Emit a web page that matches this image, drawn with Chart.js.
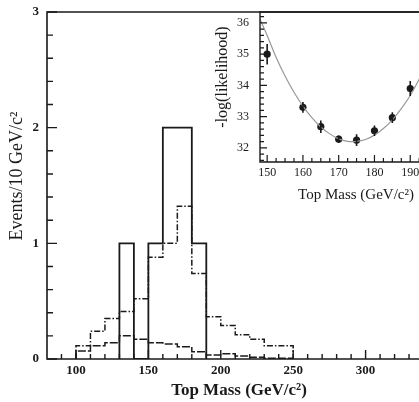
<!DOCTYPE html>
<html><head><meta charset="utf-8">
<script src="https://cdn.jsdelivr.net/npm/chart.js@4.4.1/dist/chart.umd.min.js"></script>
<style>
html,body{margin:0;padding:0;background:#fff;overflow:hidden;width:419px;height:402px;}
#main{position:absolute;left:0;top:0;}
#inset{position:absolute;left:200px;top:0;}
</style></head><body>
<canvas id="main" width="460" height="402"></canvas>
<canvas id="inset" width="260" height="215"></canvas>
<script>
// ---------- main histogram data ----------
const binWidth = 10;
const dataStart = 130;
const dataCounts = [1, 0, 1, 2, 2, 1];                 // 130-190
const sigBkgStart = 100;
const sigBkgValues = [0.115, 0.24, 0.35, 0.41, 0.52, 0.88, 1.0, 1.32, 0.74, 0.365, 0.29, 0.21, 0.17, 0.115, 0.115]; // 100-250
const bkgStart = 100;
const bkgValues = [0.07, 0.115, 0.14, 0.2, 0.17, 0.14, 0.13, 0.106, 0.063, 0.034, 0.045, 0.026, 0.015, 0.006, 0.006]; // 100-250

const mainXLabels = [100, 150, 200, 250, 300];
const mainXMinor = [90,110,120,130,140,160,170,180,190,210,220,230,240,260,270,280,290,310,320,330,340];
const mainYLabels = [0, 1, 2, 3];
const mainYMinor = [0.2,0.4,0.6,0.8,1.2,1.4,1.6,1.8,2.2,2.4,2.6,2.8];

// ---------- inset likelihood data ----------
const likeMass = [150, 160, 165, 170, 175, 180, 185, 190];
const likeValue = [35.0, 33.3, 32.68, 32.28, 32.25, 32.55, 32.97, 33.9];
const likeError = [0.33, 0.17, 0.2, 0.12, 0.19, 0.17, 0.17, 0.24];
const fitMass = [148, 150, 152.5, 155, 157.5, 160, 162.5, 165, 167.5, 170, 172.5, 175, 177.5, 180, 182.5, 185, 187.5, 190, 192.5, 195, 197.5, 200];
const fitValue = [36.12, 35.6, 34.9, 34.3, 33.78, 33.34, 32.97, 32.67, 32.45, 32.29, 32.21, 32.21, 32.27, 32.41, 32.62, 32.9, 33.26, 33.68, 34.2, 34.76, 35.4, 36.12];

const insetXLabels = [150, 160, 170, 180, 190, 200];
const insetXMinor = [152.5,155,157.5,162.5,165,167.5,172.5,175,177.5,182.5,185,187.5,192.5,195,197.5];
const insetYLabels = [32, 33, 34, 35, 36];
const insetYMinor = [31.6,31.8,32.2,32.4,32.6,32.8,33.2,33.4,33.6,33.8,34.2,34.4,34.6,34.8,35.2,35.4,35.6,35.8,36.2];

function histPoints(start, values) {
  const pts = [{x: start, y: 0}];
  values.forEach((v, i) => pts.push({x: start + i * binWidth, y: v}));
  pts.push({x: start + values.length * binWidth, y: 0});
  return pts;
}

const INK = '#1a1a1a';
const SERIF = '"Liberation Serif", "DejaVu Serif", serif';

const frameTicks = {
  id: 'frameTicks',
  afterDatasetsDraw(chart, args, o) {
    const {ctx, chartArea: a, scales} = chart;
    ctx.save();
    ctx.strokeStyle = INK;
    ctx.lineWidth = o.frameWidth;
    ctx.beginPath();
    ctx.moveTo(a.left, a.top); ctx.lineTo(a.right, a.top); ctx.lineTo(a.right, a.bottom);
    ctx.lineTo(a.left, a.bottom); ctx.closePath();
    ctx.stroke();
    ctx.lineWidth = o.tickWidth;
    ctx.beginPath();
    const xs = scales.x, ys = scales.y;
    o.xMajor.forEach(v => { const p = xs.getPixelForValue(v); ctx.moveTo(p, a.bottom); ctx.lineTo(p, a.bottom - o.xMajorLen); });
    o.xMinor.forEach(v => { const p = xs.getPixelForValue(v); ctx.moveTo(p, a.bottom); ctx.lineTo(p, a.bottom - o.xMinorLen); });
    o.yMajor.forEach(v => { const p = ys.getPixelForValue(v); ctx.moveTo(a.left, p); ctx.lineTo(a.left + o.yMajorLen, p); });
    o.yMinor.forEach(v => { const p = ys.getPixelForValue(v); ctx.moveTo(a.left, p); ctx.lineTo(a.left + o.yMinorLen, p); });
    ctx.stroke();
    ctx.restore();
  },
  afterDraw(chart, args, o) {
    const ctx = chart.ctx;
    ctx.save();
    ctx.fillStyle = INK;
    ctx.textAlign = 'center';
    ctx.textBaseline = 'middle';
    (o.titles || []).forEach(t => {
      ctx.save();
      ctx.font = t.font;
      ctx.translate(t.x, t.y);
      if (t.rot) ctx.rotate(t.rot);
      ctx.fillText(t.text, 0, 0);
      ctx.restore();
    });
    ctx.restore();
  }
};

const errorBars = {
  id: 'errorBars',
  afterDatasetsDraw(chart, args, o) {
    if (!o.errors) return;
    const {ctx, scales} = chart;
    const meta = chart.getDatasetMeta(o.datasetIndex);
    ctx.save();
    ctx.strokeStyle = INK;
    ctx.lineWidth = 1.6;
    ctx.beginPath();
    meta.data.forEach((pt, i) => {
      const ds = chart.data.datasets[o.datasetIndex].data[i];
      const y1 = scales.y.getPixelForValue(ds.y - o.errors[i]);
      const y2 = scales.y.getPixelForValue(ds.y + o.errors[i]);
      ctx.moveTo(pt.x, y1); ctx.lineTo(pt.x, y2);
    });
    ctx.stroke();
    ctx.restore();
  }
};

const noPad = s => { s.paddingTop = 0; s.paddingBottom = 0; s.paddingLeft = 0; s.paddingRight = 0; };

// ---------- main chart ----------
new Chart(document.getElementById('main'), {
  type: 'line',
  data: {
    datasets: [
      {label: 'Data', data: histPoints(dataStart, dataCounts), stepped: 'before', borderColor: INK, borderWidth: 1.8, pointRadius: 0, fill: false},
      {label: 'Signal+Background', data: histPoints(sigBkgStart, sigBkgValues), stepped: 'before', borderColor: INK, borderWidth: 1.5, borderDash: [6, 2, 1.5, 2], pointRadius: 0, fill: false},
      {label: 'Background', data: histPoints(bkgStart, bkgValues), stepped: 'before', borderColor: INK, borderWidth: 1.5, borderDash: [8, 2], pointRadius: 0, fill: false}
    ]
  },
  options: {
    responsive: false, animation: false, devicePixelRatio: 1,
    layout: {padding: {top: 12, right: 22, left: 0, bottom: 0}},
    plugins: {
      legend: {display: false}, tooltip: {enabled: false},
      frameTicks: {
        frameWidth: 1.6, tickWidth: 1.4,
        xMajor: mainXLabels, xMinor: mainXMinor, xMajorLen: 9, xMinorLen: 5,
        yMajor: mainYLabels, yMinor: mainYMinor, yMajorLen: 10, yMinorLen: 6,
        titles: [
          {text: 'Top Mass (GeV/c²)', x: 239, y: 391, font: 'bold 17px ' + SERIF},
          {text: 'Events/10 GeV/c²', x: 17, y: 176, rot: -Math.PI / 2, font: '18px ' + SERIF}
        ]
      }
    },
    scales: {
      x: {
        type: 'linear', min: 80, max: 350,
        grid: {display: false, drawTicks: false}, border: {display: false},
        afterBuildTicks: s => { s.ticks = mainXLabels.map(v => ({value: v})); },
        afterFit: s => { s.height = 43; noPad(s); },
        ticks: {padding: 4, color: INK, font: {family: SERIF, size: 13, weight: 'bold'}, maxRotation: 0}
      },
      y: {
        type: 'linear', min: 0, max: 3,
        grid: {display: false, drawTicks: false}, border: {display: false},
        afterBuildTicks: s => { s.ticks = mainYLabels.map(v => ({value: v})); },
        afterFit: s => { s.width = 47; noPad(s); },
        ticks: {padding: 8, color: INK, font: {family: SERIF, size: 13, weight: 'bold'}}
      }
    }
  },
  plugins: [frameTicks]
});

// ---------- inset chart ----------
new Chart(document.getElementById('inset'), {
  type: 'line',
  data: {
    datasets: [
      {label: 'Fit', data: fitMass.map((m, i) => ({x: m, y: fitValue[i]})), borderColor: '#999', borderWidth: 1.2, pointRadius: 0, tension: 0.35, fill: false},
      {label: 'Likelihood', data: likeMass.map((m, i) => ({x: m, y: likeValue[i]})), showLine: false, pointRadius: 3.6, pointBackgroundColor: INK, pointBorderColor: INK, pointBorderWidth: 0}
    ]
  },
  options: {
    responsive: false, animation: false, devicePixelRatio: 1,
    layout: {padding: {top: 12, right: 14, left: 0, bottom: 0}},
    plugins: {
      legend: {display: false}, tooltip: {enabled: false},
      errorBars: {datasetIndex: 1, errors: likeError},
      frameTicks: {
        frameWidth: 1.4, tickWidth: 1.2,
        xMajor: insetXLabels, xMinor: insetXMinor, xMajorLen: 7, xMinorLen: 4,
        yMajor: insetYLabels, yMinor: insetYMinor, yMajorLen: 7, yMinorLen: 4,
        titles: [
          {text: 'Top Mass (GeV/c²)', x: 156, y: 195, font: '15px ' + SERIF},
          {text: '-log(likelihood)', x: 23, y: 77, rot: -Math.PI / 2, font: '16px ' + SERIF}
        ]
      }
    },
    scales: {
      x: {
        type: 'linear', min: 148, max: 200,
        grid: {display: false, drawTicks: false}, border: {display: false},
        afterBuildTicks: s => { s.ticks = insetXLabels.map(v => ({value: v})); },
        afterFit: s => { s.height = 215 - 162; noPad(s); },
        ticks: {padding: 4, color: INK, font: {family: SERIF, size: 12}, maxRotation: 0}
      },
      y: {
        type: 'linear', min: 31.55, max: 36.35,
        grid: {display: false, drawTicks: false}, border: {display: false},
        afterBuildTicks: s => { s.ticks = insetYLabels.map(v => ({value: v})); },
        afterFit: s => { s.width = 60; noPad(s); },
        ticks: {padding: 11, color: INK, font: {family: SERIF, size: 12}}
      }
    }
  },
  plugins: [frameTicks, errorBars]
});
</script>
</body></html>
